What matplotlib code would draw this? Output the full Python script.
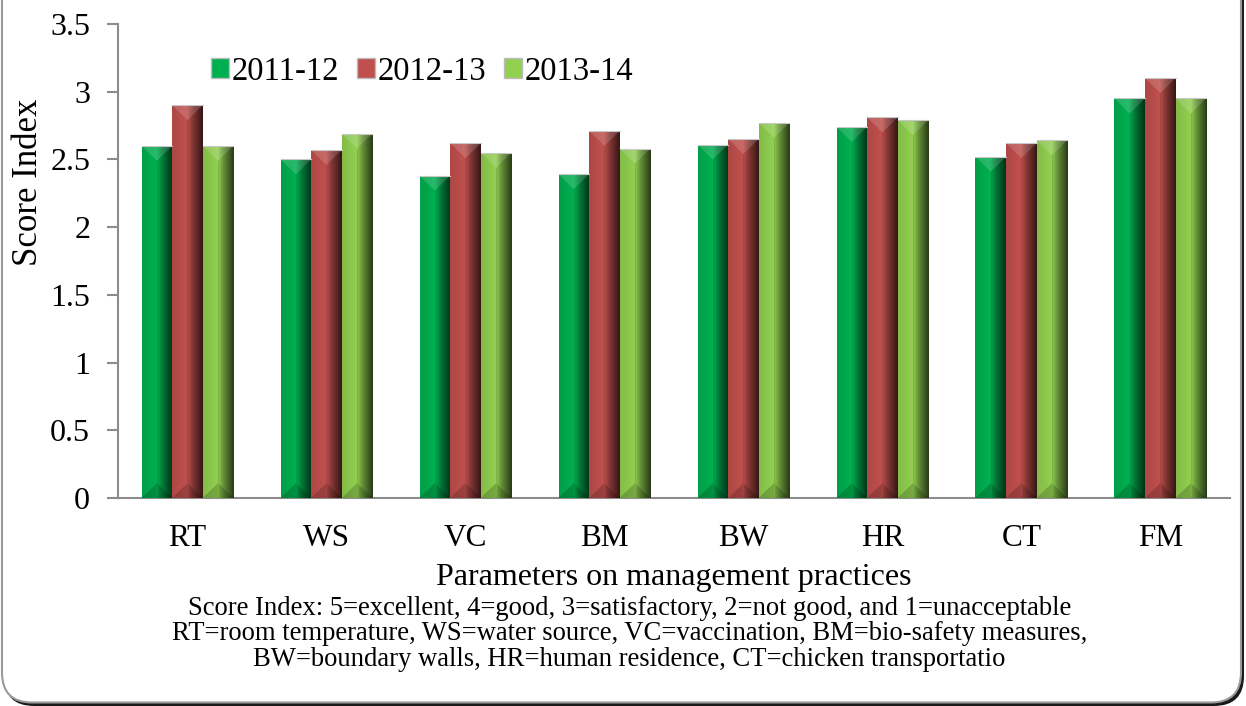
import numpy as np
import matplotlib
matplotlib.use("Agg")
import matplotlib.pyplot as plt
from matplotlib.patches import Polygon, Patch, FancyBboxPatch
from matplotlib import colors as mcolors

# data
categories = ["RT", "WS", "VC", "BM", "BW", "HR", "CT", "FM"]
years = ["2011-12", "2012-13", "2013-14"]
s2011 = [2.60, 2.50, 2.38, 2.39, 2.61, 2.74, 2.52, 2.95]
s2012 = [2.90, 2.57, 2.62, 2.71, 2.65, 2.81, 2.62, 3.10]
s2013 = [2.60, 2.69, 2.55, 2.58, 2.77, 2.79, 2.64, 2.95]
series = [s2011, s2012, s2013]
bar_colors = ["#00B050", "#C0504D", "#92D050"]

note_lines = [
    "Score Index: 5=excellent, 4=good, 3=satisfactory, 2=not good, and 1=unacceptable",
    "RT=room temperature, WS=water source, VC=vaccination, BM=bio-safety measures,",
    "BW=boundary walls, HR=human residence, CT=chicken transportatio",
]

plt.rcParams["font.family"] = ["Liberation Serif", "DejaVu Serif"]

fig = plt.figure(figsize=(12.46, 7.06), dpi=100)
fig.patch.set_facecolor("white")

# rounded frame with a dark shadow, like the pasted picture
shadow = FancyBboxPatch((0.04, 0.0), 12.40, 7.4, boxstyle="round,pad=0,rounding_size=0.3",
                        transform=fig.dpi_scale_trans, facecolor="#1a1a1a", edgecolor="none",
                        zorder=-3)
frame = FancyBboxPatch((0.02, 0.035), 12.39, 7.4, boxstyle="round,pad=0,rounding_size=0.3",
                       transform=fig.dpi_scale_trans, facecolor="white", edgecolor="#9a9a9a",
                       linewidth=1.5, zorder=-2)
fig.patches.extend([shadow, frame])

ax = fig.add_axes([0.0947, 0.2946, 0.8923, 0.6714])
ax.set_facecolor("none")

x = np.arange(len(categories))
width = 0.22
bevel = 0.11
prof_t = np.linspace(0, 1, 64)
prof_f = np.interp(prof_t, [0, 0.48, 0.52, 0.66, 1.0], [0.9, 1.0, 0.93, 0.7, 0.28])

legend_handles = []
for i, (vals, col) in enumerate(zip(series, bar_colors)):
    pos = x + (i - 1) * width
    bars = ax.bar(pos, vals, width, color=col, edgecolor="none", zorder=2)
    base = np.array(mcolors.to_rgb(col))
    grad = np.clip(base[None, None, :] * prof_f[None, :, None], 0, 1)
    for b in bars:
        x0, w, h = b.get_x(), b.get_width(), b.get_height()
        im = ax.imshow(grad, extent=(x0, x0 + w, 0, h), aspect="auto",
                       interpolation="bilinear", zorder=3)
        im.set_clip_path(b)
        xc = x0 + w / 2
        ax.add_patch(Polygon([(x0, h), (x0 + w, h), (xc, h - bevel)], closed=True,
                             facecolor="white", alpha=0.15, edgecolor="none", zorder=4))
        ax.add_patch(Polygon([(x0, 0), (x0 + w, 0), (xc, bevel)], closed=True,
                             facecolor="black", alpha=0.18, edgecolor="none", zorder=4))
        ax.plot([xc, xc], [0.02, h - bevel], color=tuple(base * 0.85), lw=0.6, zorder=4)
        ax.plot([x0, x0 + w], [h, h], color="#c8c8c8", lw=0.8, zorder=5)
    legend_handles.append(Patch(facecolor=col, edgecolor="#bbbbbb", label=years[i]))

ax.set_xlim(-0.5, len(categories) - 0.5)
ax.set_ylim(0, 3.5)
ax.set_yticks(np.arange(0, 3.51, 0.5))
ax.set_yticklabels(["0", "0.5", "1", "1.5", "2", "2.5", "3", "3.5"])
ax.set_xticks(x)
ax.set_xticklabels(categories)

for s in ["top", "right"]:
    ax.spines[s].set_visible(False)
for s in ["left", "bottom"]:
    ax.spines[s].set_color("#8c8c8c")
    ax.spines[s].set_linewidth(1.5)
ax.tick_params(axis="y", colors="#8c8c8c", labelcolor="black", labelsize=23,
               length=8, width=1.5, pad=12)
ax.tick_params(axis="x", length=0, labelsize=22.5, pad=19)

ax.set_ylabel("Score Index", fontsize=25)
ax.yaxis.set_label_coords(-0.066, 0.665)
ax.set_xlabel("Parameters on management practices", fontsize=23, labelpad=7)

ax.legend(handles=legend_handles, loc="center left", bbox_to_anchor=(0.072, 0.9),
          ncol=3, frameon=False, fontsize=23.5, handlelength=0.55, handleheight=0.55,
          handletextpad=0.08, columnspacing=0.55, borderaxespad=0)

fig.text(0.505, 0.102, "\n".join(note_lines), ha="center", va="center",
         fontsize=19.2, linespacing=1.02)

fig.savefig("out.png", dpi=100)
